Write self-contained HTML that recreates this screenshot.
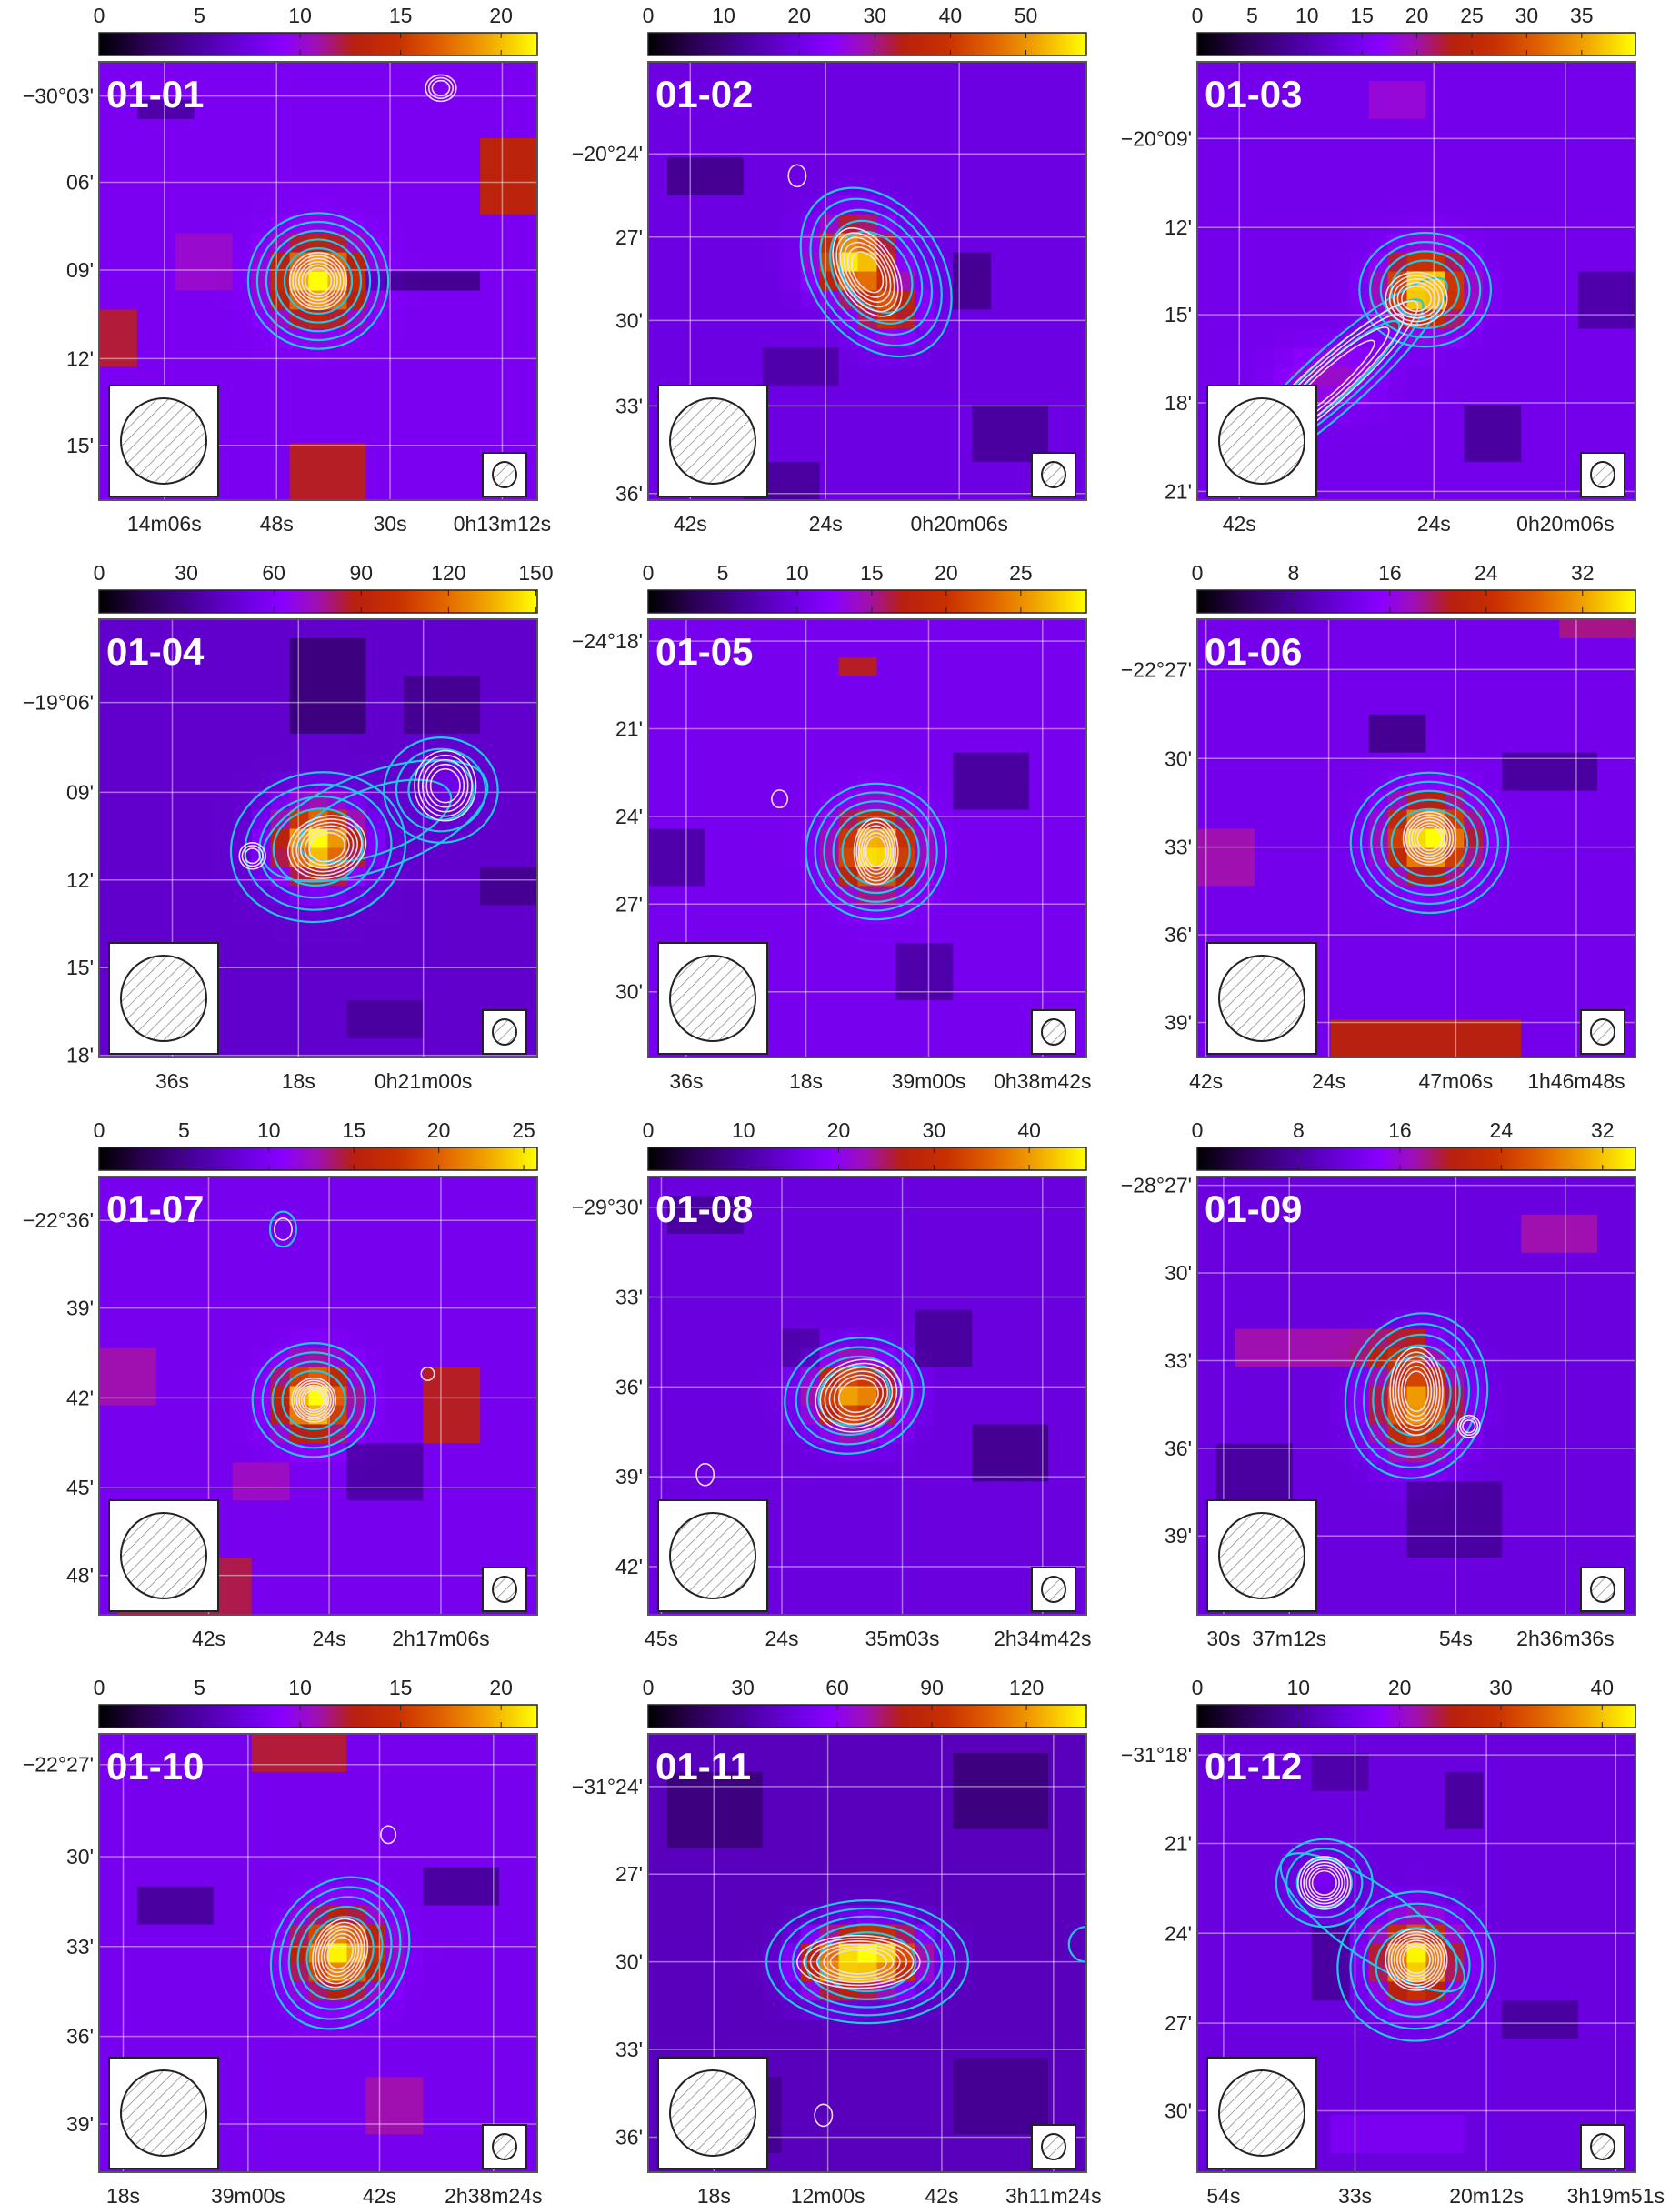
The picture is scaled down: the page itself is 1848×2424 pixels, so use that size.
<!DOCTYPE html>
<html><head><meta charset="utf-8"><style>
html,body{margin:0;padding:0;background:#fff;}
svg{display:block;font-family:"Liberation Sans","DejaVu Sans",sans-serif;}
</style></head><body>
<svg id="fig" width="1848" height="2424" viewBox="0 0 1848 2424" xmlns="http://www.w3.org/2000/svg">
<defs>
<linearGradient id="cmap" x1="0" x2="1" y1="0" y2="0">
<stop offset="0" stop-color="#000000"/><stop offset="0.1" stop-color="#2a0050"/><stop offset="0.22" stop-color="#4a00a0"/>
<stop offset="0.35" stop-color="#7000e8"/><stop offset="0.42" stop-color="#8a00ff"/><stop offset="0.5" stop-color="#a010b0"/>
<stop offset="0.58" stop-color="#b82010"/><stop offset="0.68" stop-color="#c83000"/><stop offset="0.78" stop-color="#e06000"/>
<stop offset="0.88" stop-color="#f0a000"/><stop offset="1" stop-color="#ffff00"/>
</linearGradient>
<pattern id="hatch" width="9" height="9" patternUnits="userSpaceOnUse" patternTransform="rotate(45)">
<line x1="0" y1="0" x2="0" y2="9" stroke="#888" stroke-width="1.5"/></pattern>
</defs>
</svg>
<script>
const panelIds=["01-01","01-02","01-03","01-04","01-05","01-06","01-07","01-08","01-09","01-10","01-11","01-12"];
const cbarMax=[21.8,58,39.9,150.5,29.4,36.4,25.8,46,34.6,21.8,139,43.3];
const cbarTicks=[[0,5,10,15,20],[0,10,20,30,40,50],[0,5,10,15,20,25,30,35],[0,30,60,90,120,150],[0,5,10,15,20,25],[0,8,16,24,32],[0,5,10,15,20,25],[0,10,20,30,40],[0,8,16,24,32],[0,5,10,15,20],[0,30,60,90,120],[0,10,20,30,40]];
const yTickLabels=[["−30°03'","06'","09'","12'","15'"],["−20°24'","27'","30'","33'","36'"],["−20°09'","12'","15'","18'","21'"],["−19°06'","09'","12'","15'","18'"],["−24°18'","21'","24'","27'","30'"],["−22°27'","30'","33'","36'","39'"],["−22°36'","39'","42'","45'","48'"],["−29°30'","33'","36'","39'","42'"],["−28°27'","30'","33'","36'","39'"],["−22°27'","30'","33'","36'","39'"],["−31°24'","27'","30'","33'","36'"],["−31°18'","21'","24'","27'","30'"]];
const yTickFrac=[[0.078,0.275,0.475,0.677,0.875],[0.21,0.40,0.59,0.785,0.985],[0.175,0.378,0.577,0.778,0.98],[0.19,0.395,0.595,0.795,0.995],[0.05,0.25,0.45,0.65,0.85],[0.115,0.318,0.52,0.72,0.92],[0.10,0.30,0.505,0.71,0.91],[0.07,0.275,0.48,0.685,0.89],[0.02,0.22,0.42,0.62,0.82],[0.07,0.28,0.485,0.69,0.89],[0.12,0.32,0.52,0.72,0.92],[0.048,0.25,0.455,0.66,0.86]];
const xTickLabels=[["14m06s","48s","30s","0h13m12s"],["42s","24s","0h20m06s"],["42s","24s","0h20m06s"],["36s","18s","0h21m00s"],["36s","18s","39m00s","0h38m42s"],["42s","24s","47m06s","1h46m48s"],["42s","24s","2h17m06s"],["45s","24s","35m03s","2h34m42s"],["30s","37m12s","54s","2h36m36s"],["18s","39m00s","42s","2h38m24s"],["18s","12m00s","42s","3h11m24s"],["54s","33s","20m12s","3h19m51s"]];
const xTickFrac=[[0.149,0.405,0.664,0.92],[0.096,0.405,0.71],[0.096,0.54,0.84],[0.167,0.455,0.74],[0.087,0.36,0.64,0.9],[0.02,0.30,0.59,0.865],[0.25,0.525,0.78],[0.03,0.305,0.58,0.9],[0.06,0.21,0.59,0.84],[0.055,0.34,0.64,0.9],[0.15,0.41,0.67,0.925],[0.06,0.36,0.66,0.955]];
const bgLevel=[0.38,0.34,0.36,0.30,0.37,0.36,0.37,0.33,0.33,0.37,0.27,0.33];
// sources: [fx, fy, peak, sigmaX, sigmaY]
const sources=[
[[0.50,0.50,0.66,0.065,0.06]],
[[0.47,0.45,0.66,0.055,0.055],[0.55,0.56,0.38,0.045,0.045]],
[[0.52,0.52,0.66,0.06,0.055],[0.3,0.72,0.12,0.08,0.05]],
[[0.50,0.51,0.72,0.065,0.06],[0.8,0.38,0.05,0.04,0.04]],
[[0.52,0.53,0.64,0.06,0.06]],
[[0.53,0.50,0.66,0.065,0.06]],
[[0.49,0.51,0.66,0.055,0.055]],
[[0.47,0.50,0.56,0.065,0.055]],
[[0.50,0.52,0.56,0.065,0.075]],
[[0.55,0.50,0.62,0.065,0.06]],
[[0.53,0.51,0.66,0.07,0.05],[0.42,0.53,0.45,0.06,0.05]],
[[0.50,0.515,0.68,0.06,0.06],[0.29,0.34,0.05,0.03,0.03]]];
const patches=[
[[0.86,0.18,0.98,0.36,0.6],[0,0.58,0.08,0.68,0.56],[0.45,0.86,0.6,1,0.57],[0.6,0.49,0.85,0.53,0.2],[0.08,0.1,0.2,0.14,0.24],[0.18,0.38,0.32,0.5,0.47]],
[[0.05,0.2,0.2,0.3,0.2],[0.28,0.65,0.45,0.75,0.24],[0.7,0.45,0.8,0.55,0.2],[0.2,0.9,0.4,1,0.22],[0.75,0.8,0.9,0.9,0.22]],
[[0.4,0.05,0.5,0.15,0.46],[0.6,0.8,0.75,0.9,0.22],[0.85,0.5,1,0.6,0.24]],
[[0.45,0.05,0.6,0.25,0.17],[0.7,0.15,0.85,0.25,0.2],[0.85,0.55,1,0.65,0.2],[0.55,0.85,0.75,0.95,0.22]],
[[0.42,0.08,0.52,0.15,0.57],[0.7,0.3,0.85,0.45,0.22],[0.55,0.75,0.7,0.85,0.24],[0.02,0.5,0.12,0.6,0.24]],
[[0.3,0.9,0.75,1,0.58],[0.0,0.5,0.12,0.6,0.5],[0.38,0.2,0.5,0.3,0.2],[0.82,0,1,0.05,0.52],[0.7,0.3,0.9,0.4,0.22]],
[[0.74,0.42,0.86,0.6,0.57],[0.05,0.85,0.35,1,0.55],[0.3,0.65,0.45,0.75,0.48],[0.0,0.4,0.12,0.5,0.5],[0.55,0.62,0.75,0.72,0.24]],
[[0.05,0.05,0.2,0.15,0.22],[0.6,0.3,0.75,0.45,0.22],[0.75,0.55,0.9,0.7,0.2],[0.3,0.35,0.4,0.45,0.24]],
[[0.1,0.36,0.5,0.42,0.5],[0.72,0.08,0.92,0.16,0.5],[0.5,0.7,0.7,0.85,0.22],[0.05,0.6,0.2,0.75,0.22]],
[[0.35,0.0,0.55,0.1,0.56],[0.6,0.8,0.75,0.9,0.5],[0.1,0.35,0.25,0.45,0.22],[0.75,0.3,0.9,0.4,0.22]],
[[0.05,0.1,0.25,0.25,0.17],[0.7,0.05,0.9,0.2,0.17],[0.1,0.8,0.3,0.95,0.2],[0.7,0.75,0.9,0.9,0.2]],
[[0.25,0.05,0.4,0.15,0.24],[0.55,0.1,0.65,0.2,0.22],[0.25,0.45,0.35,0.6,0.22],[0.7,0.6,0.85,0.7,0.22],[0.3,0.85,0.6,0.95,0.38]]];
const cyanContours=[
[[0.50,0.50,0.16,0.155,0,5]],
[[0.52,0.48,0.15,0.21,-35,5]],
[[0.52,0.52,0.15,0.13,0,4],[0.32,0.72,0.33,0.07,-42,3]],
[[0.50,0.52,0.2,0.17,-10,4],[0.78,0.39,0.13,0.12,0,3],[0.63,0.46,0.27,0.11,-20,2]],
[[0.52,0.53,0.16,0.155,0,5]],
[[0.53,0.51,0.18,0.16,0,5]],
[[0.49,0.51,0.14,0.13,0,4],[0.42,0.12,0.03,0.04,0,1]],
[[0.47,0.50,0.16,0.13,-15,4]],
[[0.50,0.50,0.16,0.19,15,5]],
[[0.55,0.50,0.15,0.18,30,5]],
[[0.50,0.52,0.23,0.14,0,5],[1,0.48,0.04,0.04,0,1]],
[[0.50,0.53,0.18,0.17,-10,4],[0.29,0.34,0.11,0.1,0,3],[0.4,0.43,0.25,0.08,35,1]]];
const whiteContours=[
[[0.50,0.50,0.065,0.065,0,6],[0.78,0.06,0.035,0.03,0,3]],
[[0.50,0.48,0.065,0.11,-30,6],[0.34,0.26,0.02,0.025,0,1]],
[[0.5,0.54,0.07,0.06,0,5],[0.3,0.73,0.27,0.05,-42,4]],
[[0.52,0.52,0.09,0.07,-15,6],[0.79,0.38,0.07,0.08,0,5],[0.35,0.54,0.03,0.03,0,3]],
[[0.52,0.53,0.05,0.075,0,6],[0.3,0.41,0.018,0.02,0,1]],
[[0.53,0.50,0.06,0.06,0,6]],
[[0.49,0.51,0.05,0.05,0,6],[0.42,0.12,0.02,0.025,0,1],[0.75,0.45,0.015,0.015,0,1]],
[[0.48,0.5,0.1,0.08,-20,6],[0.13,0.68,0.02,0.025,0,1]],
[[0.50,0.49,0.06,0.1,0,6],[0.62,0.57,0.025,0.025,0,3]],
[[0.55,0.50,0.06,0.08,20,6],[0.66,0.23,0.017,0.02,0,1]],
[[0.48,0.52,0.14,0.06,0,6],[0.4,0.87,0.02,0.025,0,1]],
[[0.50,0.515,0.07,0.07,0,7],[0.29,0.34,0.06,0.06,0,6]]];

const NS="http://www.w3.org/2000/svg";
const svg=document.getElementById('fig');
const stops=[[0,[0,0,0]],[0.1,[42,0,80]],[0.22,[74,0,160]],[0.35,[112,0,232]],[0.42,[138,0,255]],[0.5,[160,16,176]],[0.58,[184,32,16]],[0.68,[200,48,0]],[0.78,[224,96,0]],[0.88,[240,160,0]],[1,[255,255,0]]];
function cmap(v){v=Math.max(0,Math.min(1,v));for(let i=1;i<stops.length;i++){if(v<=stops[i][0]){const a=stops[i-1],b=stops[i];const t=(v-a[0])/(b[0]-a[0]);const c=a[1].map((x,k)=>Math.round(x+(b[1][k]-x)*t));return `rgb(${c[0]},${c[1]},${c[2]})`;}}return 'rgb(255,255,0)';}
function mk(tag,attrs,parent){const e=document.createElementNS(NS,tag);for(const k in attrs)e.setAttribute(k,attrs[k]);(parent||svg).appendChild(e);return e;}
const SIZE=482,N=23;
panelIds.forEach((pid,i)=>{
  const col=i%3,row=Math.floor(i/3);
  const L=109+col*604,T=68+row*613;
  const sx=f=>L+f*SIZE, sy=f=>T+f*SIZE;
  const g=mk('g',{});
  
  
  const cb=mk('g',{},g);
  
  
  mk('rect',{x:L,y:T-32,width:SIZE,height:25,fill:'url(#cmap)',stroke:'#222','stroke-width':1.5},cb);
  cbarTicks[i].forEach(t=>{const x=L+t/cbarMax[i]*SIZE;
    mk('line',{x1:x,x2:x,y1:T-32,y2:T-26,stroke:'#222','stroke-width':1},cb);
    mk('line',{x1:x,x2:x,y1:T-7,y2:T-13,stroke:'#222','stroke-width':1},cb);
    const tx=mk('text',{x:x,y:T-43,'text-anchor':'middle','font-size':23,fill:'#222'},cb);tx.textContent=t;
    
    });
  const cid='clip'+i;
  const cp=mk('clipPath',{id:cid},g);mk('rect',{x:L,y:T,width:SIZE,height:SIZE},cp);
  const img=mk('g',{'clip-path':`url(#${cid})`},g);
  
  
  const cs=SIZE/N;
  for(let r=0;r<N;r++)for(let c=0;c<N;c++){
    const fx=(c+0.5)/N,fy=(r+0.5)/N;let v=bgLevel[i];
    patches[i].forEach(p=>{if(fx>=p[0]&&fx<=p[2]&&fy>=p[1]&&fy<=p[3])v=p[4];});
    sources[i].forEach(s=>{const dx=(fx-s[0])/s[3],dy=(fy-s[1])/s[4];v+=s[2]*Math.exp(-0.5*(dx*dx+dy*dy));});
    mk('rect',{x:(L+c*cs).toFixed(2),y:(T+r*cs).toFixed(2),width:(cs+0.6).toFixed(2),height:(cs+0.6).toFixed(2),fill:cmap(v)},img);
  }
  yTickFrac[i].forEach(f=>mk('line',{x1:L,x2:L+SIZE,y1:sy(f),y2:sy(f),stroke:'#fff','stroke-opacity':0.45,'stroke-width':1.5},img));
  xTickFrac[i].forEach(f=>mk('line',{x1:sx(f),x2:sx(f),y1:T,y2:T+SIZE,stroke:'#fff','stroke-opacity':0.45,'stroke-width':1.5},img));
  const drawGroup=(list,color,w,name)=>list.forEach(ct=>{const n=ct[5];for(let k=0;k<n;k++){const s=(k+1)/n;const sc=n===1?1:0.35+0.65*s;
    const e=mk('ellipse',{cx:sx(ct[0]),cy:sy(ct[1]),rx:ct[2]*SIZE*sc,ry:ct[3]*SIZE*sc,transform:`rotate(${ct[4]} ${sx(ct[0])} ${sy(ct[1])})`,fill:'none',stroke:color,'stroke-width':w},img);
    
    }});
  drawGroup(cyanContours[i],'#1ec8e6',2.2,'cyan-contour');
  drawGroup(whiteContours[i],'#f4dcf4',1.6,'white-contour');
  const bb=mk('g',{},img);
  
  
  mk('rect',{x:L+11,y:T+356,width:120,height:122,fill:'#fff',stroke:'#222','stroke-width':2},bb);
  mk('circle',{cx:L+71,cy:T+417,r:47,fill:'url(#hatch)',stroke:'#222','stroke-width':2},bb);
  const sb=mk('g',{},img);
  
  
  mk('rect',{x:L+422,y:T+430,width:48,height:48,fill:'#fff',stroke:'#222','stroke-width':2},sb);
  mk('ellipse',{cx:L+446,cy:T+454,rx:13,ry:14,fill:'url(#hatch)',stroke:'#222','stroke-width':2},sb);
  const lb=mk('text',{x:L+8,y:T+50,'font-size':42,'font-weight':'bold',fill:'#fff'},img);lb.textContent=pid;
  
  
  mk('rect',{x:L,y:T,width:SIZE,height:SIZE,fill:'none',stroke:'#555','stroke-width':2},g);
  yTickLabels[i].forEach((t,k)=>{const tx=mk('text',{x:L-6,y:sy(yTickFrac[i][k])+8,'text-anchor':'end','font-size':23,fill:'#222'},g);tx.textContent=t;
    
    });
  xTickLabels[i].forEach((t,k)=>{const tx=mk('text',{x:sx(xTickFrac[i][k]),y:T+SIZE+34,'text-anchor':'middle','font-size':23,fill:'#222'},g);tx.textContent=t;
    
    });
});
</script>
</body></html>
